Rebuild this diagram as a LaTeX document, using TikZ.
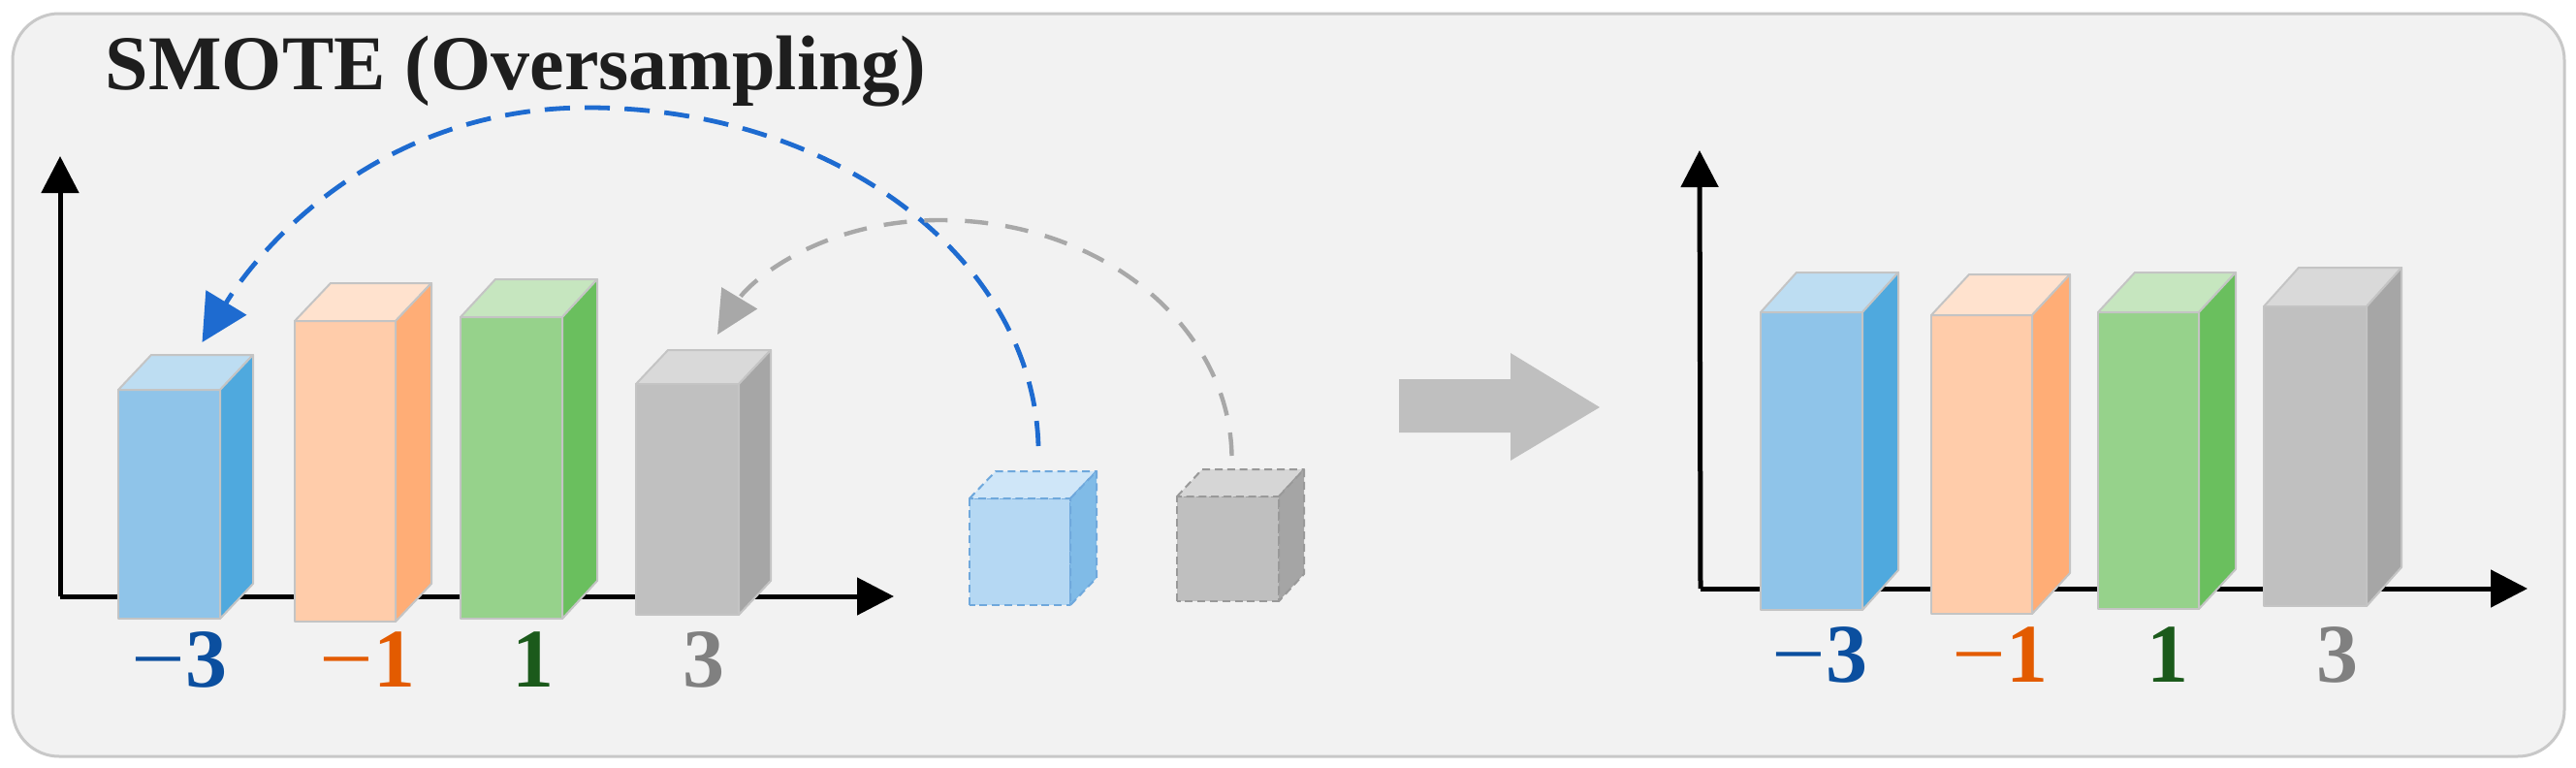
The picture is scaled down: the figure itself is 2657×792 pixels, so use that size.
\documentclass[tikz,border=0pt]{standalone}
\usepackage{fontspec}
\usepackage{graphicx}
\setmainfont{Liberation Serif}
\usetikzlibrary{arrows.meta,fit}
\definecolor{bgfill}{HTML}{F2F2F2}
\definecolor{bgline}{HTML}{C8C8C8}
\definecolor{edgec}{HTML}{C4C4C4}
\definecolor{bluefront}{HTML}{8FC4E9}
\definecolor{blueside}{HTML}{4FA9DE}
\definecolor{bluetop}{HTML}{BDDDF2}
\definecolor{orangefront}{HTML}{FFCCAA}
\definecolor{orangeside}{HTML}{FFAD76}
\definecolor{orangetop}{HTML}{FFE2CE}
\definecolor{greenfront}{HTML}{96D28B}
\definecolor{greenside}{HTML}{6ABF5E}
\definecolor{greentop}{HTML}{C6E6BF}
\definecolor{grayfront}{HTML}{C0C0C0}
\definecolor{grayside}{HTML}{A6A6A6}
\definecolor{graytop}{HTML}{D9D9D9}
\definecolor{lbluefront}{HTML}{B5D8F3}
\definecolor{lblueside}{HTML}{80BBE7}
\definecolor{lbluetop}{HTML}{CFE6F8}
\definecolor{lgrayfront}{HTML}{BFBFBF}
\definecolor{lgrayside}{HTML}{A5A5A5}
\definecolor{lgraytop}{HTML}{D6D6D6}
\definecolor{arrblue}{HTML}{1E6BD0}
\definecolor{arrgray}{HTML}{A8A8A8}
\definecolor{bigarr}{HTML}{BFBFBF}
\definecolor{labblue}{HTML}{0B4F9F}
\definecolor{laborange}{HTML}{E35B00}
\definecolor{labgreen}{HTML}{1B5A1B}
\definecolor{labgray}{HTML}{808080}
\definecolor{dashblue}{HTML}{6FA8DC}
\definecolor{dashgray}{HTML}{999999}
\definecolor{titlec}{HTML}{1E1E1E}
\tikzset{
  x=0.25pt, y=-0.25pt,
  bgbox/.style={fill=bgfill, draw=bgline, line width=0.75pt, rounded corners=12pt},
  axisline/.style={line width=1.25pt, -{Triangle[length=9.5pt,width=9.5pt]}},
  solidedge/.style={draw=edgec, line width=0.5pt, line join=round},
  dashbluee/.style={draw=dashblue, line width=0.5pt, dash pattern=on 2pt off 1.2pt, line join=round},
  dashgraye/.style={draw=dashgray, line width=0.5pt, dash pattern=on 2pt off 1.2pt, line join=round},
  bluearrow/.style={draw=arrblue, line width=1.2pt, dash pattern=on 6.5pt off 3.8pt, -{Triangle[length=12pt,width=12pt]}},
  grayarrow/.style={draw=arrgray, line width=1.1pt, dash pattern=on 6pt off 4.5pt, -{Triangle[length=11pt,width=10.5pt]}},
  titletext/.style={font=\bfseries\fontsize{20pt}{24pt}\selectfont, inner sep=0pt, text=titlec},
  labtext/.style={font=\bfseries\fontsize{21.5pt}{26pt}\selectfont, inner sep=0pt, anchor=base},
}
\newcommand{\thinminus}{{\mdseries\scalebox{1.15}[1]{−}}}
% #1 name, #2 x left, #3 y top, #4 x right, #5 y bottom, #6 colour prefix, #7 dx, #8 dy, #9 edge style
\newcommand{\mycuboid}[9]{%
  \node[inner sep=0pt, outer sep=0pt, fit={(#2,#3) (#4,#5)}] (#1) {};
  \path[#9, fill=#6front] (#1.south west) rectangle (#1.north east);
  \path[#9, fill=#6top] (#1.north west) -- ([shift={(#7,-#8)}]#1.north west) -- ([shift={(#7,-#8)}]#1.north east) -- (#1.north east) -- cycle;
  \path[#9, fill=#6side] (#1.north east) -- ([shift={(#7,-#8)}]#1.north east) -- ([shift={(#7,-#8)}]#1.south east) -- (#1.south east) -- cycle;
}
\begin{document}
\begin{tikzpicture}
\useasboundingbox (0,0) rectangle (2657,792);
\fill[white] (0,0) rectangle (2657,792);
\draw[bgbox] (13,14) rectangle (2645,780);

\node[titletext, anchor=base west] (title) at (108,93) {SMOTE (Oversampling)};

% left axes
\coordinate (lo) at (62,615);
\coordinate (ly) at (62,161);
\coordinate (lx) at (922,615);
\draw[axisline] (lo) -- (ly);
\draw[axisline] (lo) -- (lx);

% left bars
\mycuboid{b1}{122}{402}{227}{638}{blue}{34}{36}{solidedge}
\mycuboid{b2}{304}{331}{408}{641}{orange}{37}{39}{solidedge}
\mycuboid{b3}{475}{327}{580}{638}{green}{36}{39}{solidedge}
\mycuboid{b4}{656}{396}{762}{634}{gray}{33}{35}{solidedge}

\node[labtext, text=labblue] (l1) at (185,708) {\thinminus3};
\node[labtext, text=laborange] (l2) at (379,708) {\thinminus1};
\node[labtext, text=labgreen] (l3) at (550,708) {1};
\node[labtext, text=labgray] (l4) at (726,708) {3};

% synthetic samples
\mycuboid{c1}{1000}{514}{1104}{624}{lblue}{27}{28}{dashbluee}
\mycuboid{c2}{1214}{512}{1319}{620}{lgray}{26}{28}{dashgraye}

% SMOTE arrows
\draw[bluearrow] ([shift={(19,-54)}]c1.north) .. controls (1066,268) and (863,111) .. (606,111)
  .. controls (392,111) and (268,255) .. ([shift={(34,-49)}]b1.north);
\draw[grayarrow] ([shift={(4,-42)}]c2.north) .. controls (1268,336) and (1136,227) .. (970,227)
  .. controls (845,227) and (772,292) .. ([shift={(31,-51)}]b4.north);

% big arrow
\fill[bigarr] (1443,391) -- (1558,391) -- (1558,364) -- (1650,420) -- (1558,475) -- (1558,446) -- (1443,446) -- cycle;

% right axes
\coordinate (ro) at (1754,607);
\coordinate (ry) at (1753,155);
\coordinate (rx) at (2607,607);
\draw[axisline] (ro) -- (ry);
\draw[axisline] (ro) -- (rx);

% right bars
\mycuboid{r1}{1816}{322}{1921}{629}{blue}{37}{41}{solidedge}
\mycuboid{r2}{1992}{325}{2096}{633}{orange}{39}{42}{solidedge}
\mycuboid{r3}{2164}{322}{2268}{628}{green}{38}{41}{solidedge}
\mycuboid{r4}{2335}{316}{2441}{625}{gray}{36}{40}{solidedge}

\node[labtext, text=labblue] (m1) at (1877,703) {\thinminus3};
\node[labtext, text=laborange] (m2) at (2063,703) {\thinminus1};
\node[labtext, text=labgreen] (m3) at (2236,703) {1};
\node[labtext, text=labgray] (m4) at (2411,703) {3};
\end{tikzpicture}
\end{document}
